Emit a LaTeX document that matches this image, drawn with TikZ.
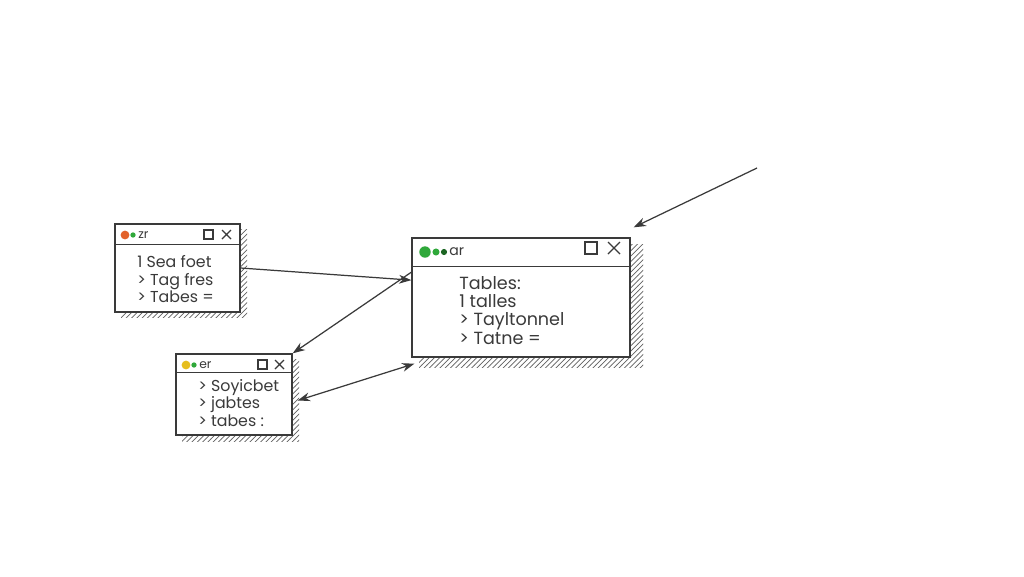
\documentclass[tikz,border=0pt]{standalone}
\usepackage{fontspec}
\setsansfont{Poppins}
\usetikzlibrary{calc,patterns,arrows.meta}

\definecolor{dotorange}{HTML}{E2622A}
\definecolor{dotgreen}{HTML}{2FA83A}
\definecolor{dotyellow}{HTML}{E6BE1E}
\definecolor{pencil}{HTML}{3A3A3A}

\begin{document}
\begin{tikzpicture}[x=0.02cm,y=-0.02cm,
    win/.style={draw=pencil,line width=0.8pt,fill=white,rectangle,inner sep=0},
    shade/.style={pattern=north east lines,pattern color=pencil!80},
    link/.style={draw=pencil,line width=0.7pt,-{Stealth[length=7pt,width=5pt]}},
    dot/.style={circle,fill=#1,inner sep=0,minimum size=5pt},
    smalldot/.style={circle,fill=#1,inner sep=0,minimum size=3pt},
    ttl/.style={font=\sffamily\scriptsize,text=pencil,anchor=west,inner sep=0},
    wtext/.style={font=\sffamily\small,text=pencil,anchor=base west,inner sep=0}]
    \useasboundingbox[fill=white] (0,0) rectangle (1024,576);

    % shadows
    \fill[shade] (121,229) rectangle (247,317);
    \fill[shade] (419,244) rectangle (643,367);
    \fill[shade] (182,359) rectangle (299,441);

    % windows
    \node[win,minimum width=2.5cm,minimum height=1.76cm] (w1) at (177.5,268) {};
    \node[win,minimum width=4.36cm,minimum height=2.38cm] (main) at (521,297.5) {};
    \node[win,minimum width=2.32cm,minimum height=1.62cm] (w3) at (234,394.5) {};
    \draw[pencil,line width=0.8pt] ($(w1.north west)+(0,21)$) -- ($(w1.north east)+(0,21)$);
    \draw[pencil,line width=0.8pt] ($(main.north west)+(0,29)$) -- ($(main.north east)+(0,29)$);
    \draw[pencil,line width=0.8pt] ($(w3.north west)+(0,19)$) -- ($(w3.north east)+(0,19)$);

    % title bars
    \node[dot=dotorange] (w1d1) at (125,235) {};
    \node[smalldot=dotgreen] (w1d2) at (133,235) {};
    \node[ttl] (w1t) at (138,235) {zr};
    \draw[pencil,line width=0.7pt] (204,230) rectangle (213,239);
    \draw[pencil,line width=0.7pt] (222,230) -- (231,239) (222,239) -- (231,230);

    \node[dot=dotgreen,minimum size=6.5pt] (md1) at (425,252) {};
    \node[smalldot=dotgreen,minimum size=4pt] (md2) at (436,252) {};
    \node[smalldot=dotgreen!60!black,minimum size=3.5pt] (md3) at (444,252) {};
    \node[ttl,font=\sffamily\footnotesize] (mt) at (449,252) {ar};
    \draw[pencil,line width=0.7pt] (585,242) rectangle (597,254);
    \draw[pencil,line width=0.7pt] (608,242) -- (620,254) (608,254) -- (620,242);

    \node[dot=dotyellow] (w3d1) at (186,365) {};
    \node[smalldot=dotgreen] (w3d2) at (194,365) {};
    \node[ttl] (w3t) at (199,365) {er};
    \draw[pencil,line width=0.7pt] (258,360) rectangle (267,369);
    \draw[pencil,line width=0.7pt] (275,360) -- (284,369) (275,369) -- (284,360);

    % window texts
    \foreach \txt [count=\i] in {1 Sea foet,> Tag fres,> Tabes =}
        \node[wtext] (w1l\i) at (137,{250+17.5*\i}) {\txt};
    \foreach \txt [count=\i] in {Tables:,1 talles,> Tayltonnel,> Tatne =}
        \node[wtext,font=\sffamily\normalsize] (ml\i) at (459,{271+18.3*\i}) {\txt};
    \foreach \txt [count=\i] in {> Soyicbet,> jabtes,> tabes :}
        \node[wtext] (w3l\i) at (198,{373.5+17.5*\i}) {\txt};

    % connectors
    \coordinate (tail) at (757,168);
    \draw[link] (w1.east) -- (main.171);
    \draw[link] (main.167) -- (w3.north east);
    \draw[link,{Stealth[length=7pt,width=5pt]}-{Stealth[length=7pt,width=5pt]}] ($(w3.east)+(5,6)$) -- ($(main.south west)+(3,6)$);
    \draw[link] (tail) -- ($(main.north east)+(3,-10)$);
\end{tikzpicture}
\end{document}
